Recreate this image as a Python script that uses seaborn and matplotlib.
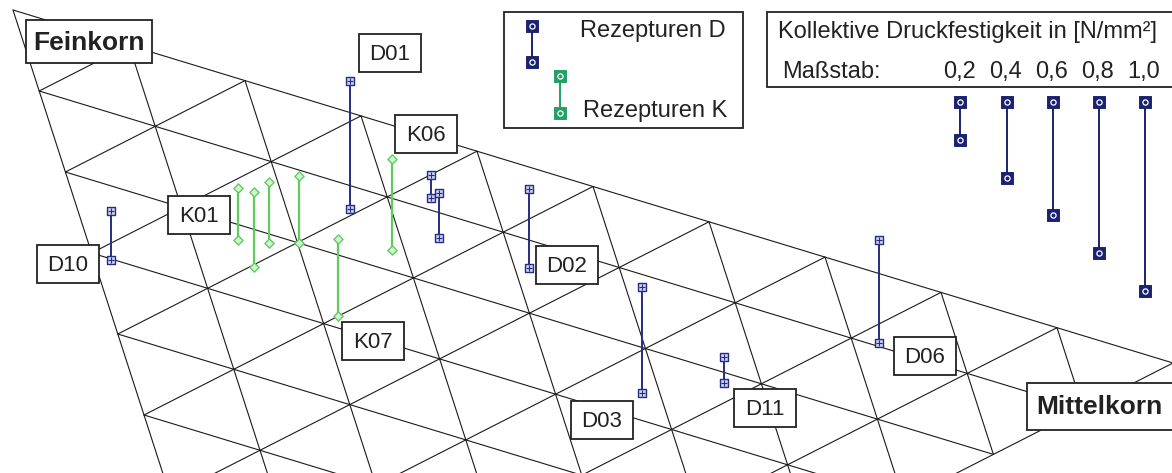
import matplotlib

matplotlib.use("Agg")

import matplotlib.pyplot as plt
import pandas as pd
import seaborn as sns
from matplotlib.patches import Rectangle


# Rezepturen: Anteil Mittelkorn / Grobkorn in % (Feinkorn = Rest), Druckfestigkeit in N/mm²
D_MITTEL = [1.6, 26.1, 34.2, 33.7, 41.4, 48.3, 56.4, 72.5]
D_GROB = [30.2, 13.2, 8.3, 13.5, 13.8, 26.2, 21.5, 9.5]
D_STRENGTH = [0.26, 0.68, 0.12, 0.24, 0.42, 0.56, 0.14, 0.545]

K_MITTEL = [14.4, 15.1, 17.3, 20.1, 21.6, 28.8]
K_GROB = [22.1, 25.2, 21.2, 20.0, 28.4, 17.1]
K_STRENGTH = [0.275, 0.40, 0.32, 0.355, 0.41, 0.48]

SCALE_VALUES = [0.2, 0.4, 0.6, 0.8, 1.0]
SCALE_LABELS = ["0,2", "0,4", "0,6", "0,8", "1,0"]
GRID_STEPS = list(range(0, 101, 10))

# label boxes: text, centre x/y, width, height (pixel layout)
LABEL_TEXT = ["D01", "K06", "K01", "D10", "D02", "K07", "D03", "D11", "D06"]
LABEL_X = [390, 426, 199, 68, 567, 373, 602, 765, 925]
LABEL_Y = [53, 134, 215, 264, 265, 341, 420, 408, 356]

# projection of the ternary plane onto the picture
ORIGIN = (13.0, 10.0)
GROB_STEP = (26.2, 81.0)
MITTEL_STEP = (116.0, 35.3)
PX_PER_UNIT = 189.0

NAVY = "#262c86"
NAVY_DARK = "#1b2270"
GREEN_LIGHT = "#5fcc5f"
GREEN_LEG = "#22a066"


def project(mittel, grob):
    x = ORIGIN[0] + grob / 10 * GROB_STEP[0] + mittel / 10 * MITTEL_STEP[0]
    y = ORIGIN[1] + grob / 10 * GROB_STEP[1] + mittel / 10 * MITTEL_STEP[1]
    return x, y


def grid_frame() -> pd.DataFrame:
    rows = []
    line = 0
    for k in GRID_STEPS:
        ends = [
            ((0, k), (100 - k, k)),      # constant Grobkorn
            ((k, 0), (k, 100 - k)),      # constant Mittelkorn
            ((k, 0), (0, k)),            # constant Feinkorn
        ]
        for (m0, g0), (m1, g1) in ends:
            for m, g in ((m0, g0), (m1, g1)):
                x, y = project(m, g)
                rows.append({"line": line, "x": x, "y": y})
            line += 1
    return pd.DataFrame(rows)


def bar_frame(mittel, grob, strength) -> pd.DataFrame:
    rows = []
    for i, (m, g, s) in enumerate(zip(mittel, grob, strength)):
        x, y = project(m, g)
        rows.append({"bar": i, "x": x, "y": y})
        rows.append({"bar": i, "x": x, "y": y - s * PX_PER_UNIT})
    return pd.DataFrame(rows)


def box(ax, cx, cy, w, h):
    ax.add_patch(Rectangle((cx - w / 2, cy - h / 2), w, h, facecolor="white",
                           edgecolor="#222222", lw=1.3, zorder=6))


def main() -> None:
    sns.set_theme(style="white")
    plt.rcParams["font.family"] = ["Liberation Sans", "DejaVu Sans"]

    fig = plt.figure(figsize=(11.72, 4.73), dpi=100)
    ax = fig.add_axes([0, 0, 1, 1])

    sns.lineplot(data=grid_frame(), x="x", y="y", units="line", estimator=None,
                 sort=False, color="#1a1a1a", lw=0.8, ax=ax, zorder=1)

    k_bars = bar_frame(K_MITTEL, K_GROB, K_STRENGTH)
    sns.lineplot(data=k_bars, x="x", y="y", units="bar", estimator=None,
                 sort=False, color=GREEN_LIGHT, lw=1.6, ax=ax, zorder=3)
    sns.scatterplot(data=k_bars, x="x", y="y", marker="D", s=22,
                    facecolor="#d4f2d4", edgecolor=GREEN_LIGHT, linewidth=1.0,
                    ax=ax, zorder=4)

    d_bars = bar_frame(D_MITTEL, D_GROB, D_STRENGTH)
    sns.lineplot(data=d_bars, x="x", y="y", units="bar", estimator=None,
                 sort=False, color=NAVY, lw=1.4, ax=ax, zorder=3)
    sns.scatterplot(data=d_bars, x="x", y="y", marker="s", s=30,
                    facecolor="#cdd1f0", edgecolor=NAVY, linewidth=1.0,
                    ax=ax, zorder=4)
    sns.scatterplot(data=d_bars, x="x", y="y", marker="+", s=22,
                    color=NAVY, linewidth=0.8, ax=ax, zorder=5)

    # point labels
    for text, cx, cy in zip(LABEL_TEXT, LABEL_X, LABEL_Y):
        box(ax, cx, cy, 62, 38)
        ax.text(cx, cy + 1, text, ha="center", va="center", fontsize=16,
                color="#222222", zorder=7)

    box(ax, 89, 42, 126, 43)
    ax.text(89, 43, "Feinkorn", ha="center", va="center", fontsize=19,
            fontweight="bold", color="#222222", zorder=7)
    box(ax, 1104, 406, 154, 47)
    ax.text(1099, 407, "Mittelkorn", ha="center", va="center", fontsize=19,
            fontweight="bold", color="#222222", zorder=7)

    # legend
    ax.add_patch(Rectangle((504, 12), 239, 116, facecolor="white",
                           edgecolor="#222222", lw=1.3, zorder=6))
    legend = pd.DataFrame({
        "x": [532, 532, 560, 560],
        "y": [26, 62, 76, 113],
        "kind": ["D", "D", "K", "K"],
    })
    for kind, color in (("D", NAVY_DARK), ("K", GREEN_LEG)):
        sub = legend[legend["kind"] == kind]
        sns.lineplot(data=sub, x="x", y="y", sort=False, estimator=None,
                     color=color, lw=1.4, ax=ax, zorder=7)
        sns.scatterplot(data=sub, x="x", y="y", marker="s", s=70,
                        color=color, edgecolor=color, ax=ax, zorder=8)
        sns.scatterplot(data=sub, x="x", y="y", marker="o", s=14,
                        facecolor=color, edgecolor="white", linewidth=0.9,
                        ax=ax, zorder=9)
    ax.text(726, 31, "Rezepturen D", ha="right", va="center", fontsize=17,
            color="#222222", zorder=9)
    ax.text(727, 111, "Rezepturen K", ha="right", va="center", fontsize=17,
            color="#222222", zorder=9)

    # scale box
    ax.add_patch(Rectangle((767, 12), 420, 75, facecolor="white",
                           edgecolor="#222222", lw=1.3, zorder=6))
    ax.text(778, 32, "Kollektive Druckfestigkeit in [N/mm²]", ha="left",
            va="center", fontsize=17, color="#222222", zorder=7)
    ax.text(782, 72, "Maßstab:", ha="left", va="center", fontsize=17,
            color="#222222", zorder=7)

    scale_x = [960, 1007, 1053, 1099, 1145]
    scale_rows = []
    for i, (sx, v) in enumerate(zip(scale_x, SCALE_VALUES)):
        scale_rows.append({"bar": i, "x": sx, "y": 102})
        scale_rows.append({"bar": i, "x": sx, "y": 102 + v * PX_PER_UNIT})
    scale = pd.DataFrame(scale_rows)
    sns.lineplot(data=scale, x="x", y="y", units="bar", estimator=None,
                 sort=False, color=NAVY_DARK, lw=1.4, ax=ax, zorder=7)
    sns.scatterplot(data=scale, x="x", y="y", marker="s", s=70,
                    color=NAVY_DARK, edgecolor=NAVY_DARK, ax=ax, zorder=8)
    sns.scatterplot(data=scale, x="x", y="y", marker="o", s=14,
                    facecolor=NAVY_DARK, edgecolor="white", linewidth=0.9,
                    ax=ax, zorder=9)
    for sx, lab in zip(scale_x, SCALE_LABELS):
        ax.text(sx - 1, 72, lab, ha="center", va="center", fontsize=17,
                color="#222222", zorder=7)

    ax.set_xlim(0, 1172)
    ax.set_ylim(473, 0)
    ax.axis("off")
    fig.savefig("out.png", dpi=100, facecolor="white")
    plt.close(fig)


if __name__ == "__main__":
    main()
